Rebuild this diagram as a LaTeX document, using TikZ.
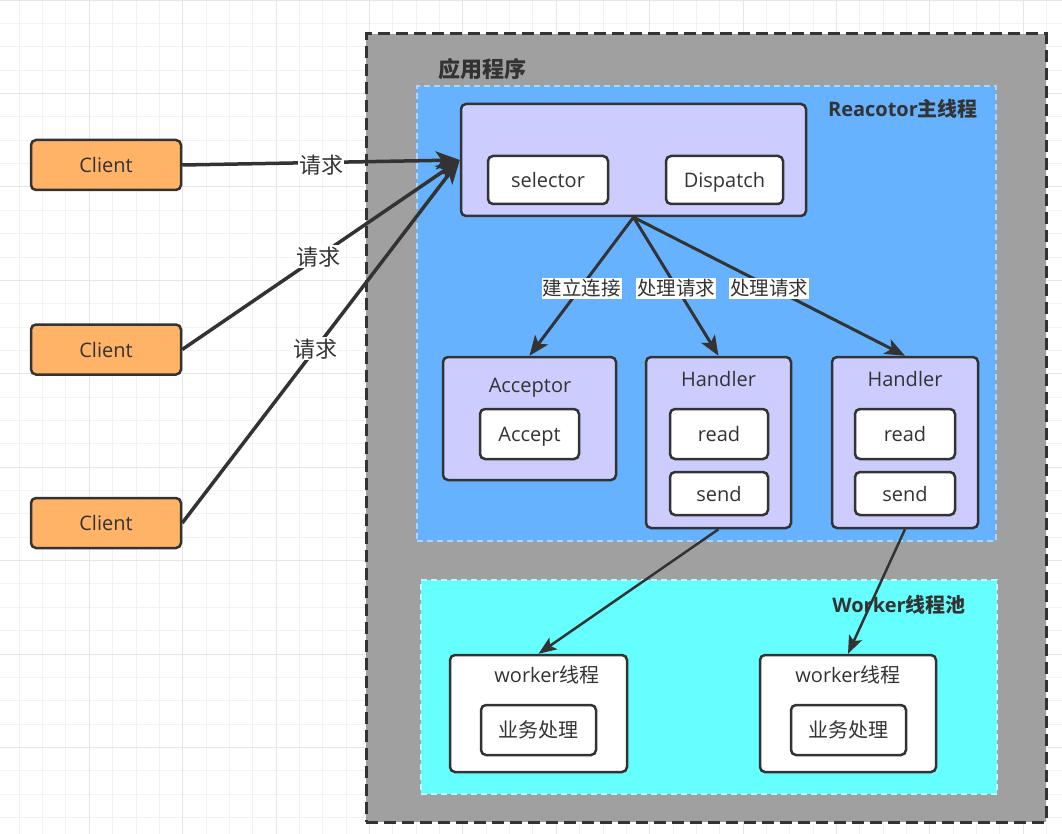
\documentclass[tikz,border=0pt]{standalone}
\usepackage{fontspec}
\setmainfont{Open Sans}
\newfontfamily\cjk{Noto Sans CJK SC}
\usetikzlibrary{arrows.meta}
\definecolor{ink}{HTML}{333333}
\definecolor{grayfill}{HTML}{A0A0A0}
\definecolor{bluefill}{HTML}{66B2FF}
\definecolor{cyanfill}{HTML}{66FFFF}
\definecolor{lav}{HTML}{CCCCFF}
\definecolor{orng}{HTML}{FFB366}
\definecolor{gridminor}{HTML}{F2F2F2}
\definecolor{gridmajor}{HTML}{E6E6E6}
\tikzset{
  txt/.style={text height=17pt, text depth=2pt},
  bigtxt/.style={text height=19pt, text depth=2.2pt},
  box/.style={draw=ink, line width=2.5pt, rounded corners=5pt, inner sep=0pt, text=ink, txt,
    font=\fontsize{20}{24}\selectfont},
  clientbox/.style={box, fill=orng, minimum width=150pt, minimum height=50pt},
  purplebox/.style={box, fill=lav},
  whitebox/.style={box, fill=white},
  title/.style={inner sep=0pt, text=ink, txt, font=\fontsize{20}{24}\selectfont\bfseries},
  boxlabel/.style={inner sep=0pt, text=ink, txt, font=\fontsize{20}{24}\selectfont},
  reqarrow/.style={draw=ink, line width=3.5pt, -{Stealth[length=24pt,width=18pt,inset=6pt]}},
  midarrow/.style={draw=ink, line width=3pt, -{Stealth[length=20pt,width=16pt,inset=5pt]}},
  lowarrow/.style={draw=ink, line width=2.5pt, -{Stealth[length=18pt,width=14pt,inset=4pt]}},
  reqlabel/.style={fill=white, inner sep=1pt, text=ink, bigtxt, font=\cjk\fontsize{22}{26}\selectfont},
  edgelabel/.style={fill=white, inner sep=1pt, text=ink, txt, font=\cjk\fontsize{19.5}{23}\selectfont},
}
\begin{document}
\begin{tikzpicture}[x=1pt,y=-1pt]
\useasboundingbox (0,0) rectangle (1062,834);
\fill[white] (0,0) rectangle (1062,834);
% grid
\foreach \gx in {19.25,42.6,...,1062} \draw[gridminor, line width=1pt] (\gx,0) -- (\gx,834);
\foreach \gy in {23.55,46.9,...,834} \draw[gridminor, line width=1pt] (0,\gy) -- (1062,\gy);
\foreach \gx in {89.3,182.7,...,1062} \draw[gridmajor, line width=1pt] (\gx,0) -- (\gx,834);
\foreach \gy in {0.2,93.6,...,834} \draw[gridmajor, line width=1pt] (0,\gy) -- (1062,\gy);

% containers
\node[draw=ink, fill=grayfill, line width=3pt, dash pattern=on 12pt off 6pt, inner sep=0pt,
      minimum width=680pt, minimum height=788pt] (app) at (706,428) {};
\node[title, bigtxt, font=\cjk\fontsize{22}{26}\selectfont\bfseries] (apptitle) at (482,69) {应用程序};

\node[draw=bluefill!55!white, fill=bluefill, line width=1.5pt, dash pattern=on 6pt off 4pt, inner sep=0pt,
      minimum width=579pt, minimum height=455pt] (reactorarea) at (706.5,313.5) {};
\node[title] (reactortitle) at (903,109) {Reacotor{\cjk 主线程}};

\node[draw=cyanfill!45!white, fill=cyanfill, line width=1.5pt, dash pattern=on 6pt off 4pt, inner sep=0pt,
      minimum width=576pt, minimum height=214pt] (workerarea) at (709,687) {};
\node[title] (workertitle) at (899,605) {Worker{\cjk 线程池}};

% clients
\node[clientbox] (c1) at (106,165) {Client};
\node[clientbox] (c2) at (106,349.5) {Client};
\node[clientbox] (c3) at (106,523) {Client};

% reactor main
\node[purplebox, minimum width=345pt, minimum height=112pt] (main) at (633.5,160) {};
\node[whitebox, minimum width=120pt, minimum height=48pt] (selector) at (548,180) {selector};
\node[whitebox, minimum width=117pt, minimum height=48pt] (dispatch) at (724.5,180) {Dispatch};

% acceptor
\node[purplebox, minimum width=173pt, minimum height=123pt] (acceptor) at (529.5,418.5) {};
\node[boxlabel] (acceptorlbl) at (530,385) {Acceptor};
\node[whitebox, minimum width=99pt, minimum height=50pt] (accept) at (529.5,434) {Accept};

% handlers
\node[purplebox, minimum width=145pt, minimum height=171pt] (h1) at (718.5,442.5) {};
\node[boxlabel] (h1lbl) at (718.5,379) {Handler};
\node[whitebox, minimum width=98pt, minimum height=50pt] (read1) at (719,434) {read};
\node[whitebox, minimum width=98pt, minimum height=43pt] (send1) at (719,493.5) {send};

\node[purplebox, minimum width=146pt, minimum height=171pt] (h2) at (905,442.5) {};
\node[boxlabel] (h2lbl) at (905,379) {Handler};
\node[whitebox, minimum width=100pt, minimum height=50pt] (read2) at (905,434) {read};
\node[whitebox, minimum width=100pt, minimum height=43pt] (send2) at (905,493.5) {send};

% workers
\node[whitebox, minimum width=177pt, minimum height=117pt] (w1) at (538.5,713.5) {};
\node[boxlabel] (w1lbl) at (547,675) {worker{\cjk 线程}};
\node[whitebox, minimum width=115pt, minimum height=50pt, font=\cjk\fontsize{20}{24}\selectfont] (biz1) at (538.5,730) {业务处理};

\node[whitebox, minimum width=176pt, minimum height=117pt] (w2) at (848,713.5) {};
\node[boxlabel] (w2lbl) at (848,675) {worker{\cjk 线程}};
\node[whitebox, minimum width=115pt, minimum height=50pt, font=\cjk\fontsize{20}{24}\selectfont] (biz2) at (848.5,730) {业务处理};

% connectors
\draw[reqarrow] (c1.east) -- node[reqlabel, yshift=-3pt] {请求} (main.west);
\draw[reqarrow] (c2.east) -- node[reqlabel, pos=0.49] {请求} (main.west);
\draw[reqarrow] (c3.east) -- node[reqlabel, pos=0.48] {请求} (main.west);

\draw[midarrow] (main.south) -- node[edgelabel, yshift=-1.5pt] {建立连接} (acceptor.north);
\draw[midarrow] (main.south) -- node[edgelabel, yshift=-1.5pt] {处理请求} (h1.north);
\draw[midarrow] (main.south) -- node[edgelabel, yshift=-1.5pt] {处理请求} (h2.north);

\draw[lowarrow] (h1.south) -- (w1.north);
\draw[lowarrow] (h2.south) -- (w2.north);
\end{tikzpicture}
\end{document}
